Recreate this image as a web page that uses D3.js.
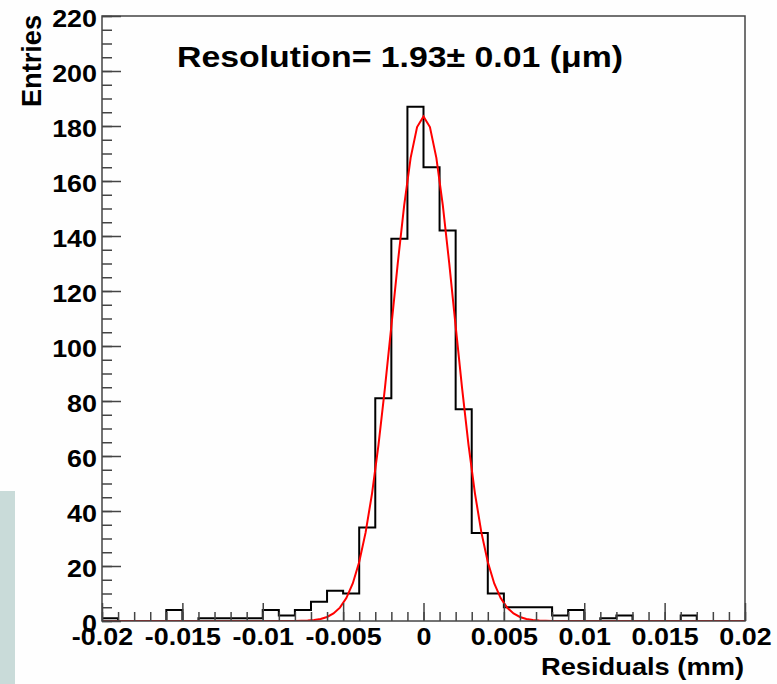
<!DOCTYPE html>
<html lang="en">
<head>
  <meta charset="UTF-8">
  <title>Residuals</title>
  <script src="https://d3js.org/d3.v7.min.js"></script>
  <style>
    body {
      margin: 0;
      background: #fefefe;
      font-family: "Liberation Sans", Arial, sans-serif;
    }
    svg text {
      font-weight: bold;
      fill: #000;
    }
    .frame {
      fill: none;
      stroke: #444;
      stroke-width: 1.5px;
    }
    .axis path { display: none; }
    .axis line { stroke: #444; stroke-width: 1.5px; }
    .hist {
      fill: none;
      stroke: #000;
      stroke-width: 2px;
    }
    .fit {
      fill: none;
      stroke: #ff0000;
      stroke-width: 2px;
    }
  </style>
</head>
<body>
  <div id="chart"></div>

  <script>
    // bin contents, 40 bins of 0.001 mm from -0.02 to 0.02
    const counts = [
      1, 0, 0, 0, 4, 0, 1, 1, 1, 1,
      4, 2, 4, 7, 11, 10, 34, 81, 139, 187,
      165, 142, 77, 32, 10, 5, 5, 5, 2, 4,
      0, 1, 2, 0, 0, 0, 2, 0, 0, 0
    ];
    const binLow = -0.02;
    const binWidth = 0.001;

    // gaussian fit
    const fitConst = 183.5;
    const fitMean = 0.0;
    const fitSigma = 0.00193;

    const xTicks = [-0.02, -0.015, -0.01, -0.005, 0, 0.005, 0.01, 0.015, 0.02];
    const xTickLabels = ["-0.02", "-0.015", "-0.01", "-0.005", "0", "0.005", "0.01", "0.015", "0.02"];
    const yTicks = [0, 20, 40, 60, 80, 100, 120, 140, 160, 180, 200, 220];

    const title = "Resolution= 1.93\u00b1 0.01 (\u03bcm)";
    const xTitle = "Residuals (mm)";
    const yTitle = "Entries";

    const W = 777, H = 684;
    const padL = 102, padR = 745, padT = 16, padB = 621;
    const stretch = 1.12; // glyphs in the picture are a little wide

    const svg = d3.select("#chart").append("svg")
      .attr("width", W)
      .attr("height", H);

    // teal strip at the lower left
    svg.append("rect")
      .attr("x", 0).attr("y", 491)
      .attr("width", 15).attr("height", H - 491)
      .attr("fill", "#c9dbd9");

    const x = d3.scaleLinear().domain([-0.02, 0.02]).range([padL, padR]);
    const y = d3.scaleLinear().domain([0, 220]).range([padB, padT]);

    svg.append("clipPath").attr("id", "plot")
      .append("rect")
      .attr("x", padL).attr("y", padT)
      .attr("width", padR - padL).attr("height", padB - padT);

    // histogram outline
    const edges = d3.range(counts.length + 1).map(i => binLow + i * binWidth);
    const pts = [[edges[0], 0]];
    counts.forEach((c, i) => {
      pts.push([edges[i], c]);
      pts.push([edges[i + 1], c]);
    });
    pts.push([edges[counts.length], 0]);

    svg.append("path")
      .attr("class", "hist")
      .attr("clip-path", "url(#plot)")
      .attr("d", d3.line().x(d => x(d[0])).y(d => y(d[1]))(pts));

    // fit curve, sampled like ROOT with 100 points
    const fitPts = d3.range(101).map(i => {
      const v = -0.02 + i * 0.0004;
      return [v, fitConst * Math.exp(-0.5 * Math.pow((v - fitMean) / fitSigma, 2))];
    });
    svg.append("path")
      .attr("class", "fit")
      .attr("clip-path", "url(#plot)")
      .attr("d", d3.line().x(d => x(d[0])).y(d => y(d[1]))(fitPts));

    // frame
    svg.append("rect")
      .attr("class", "frame")
      .attr("x", padL).attr("y", padT)
      .attr("width", padR - padL).attr("height", padB - padT);

    function widen(sel) {
      sel.each(function () {
        const t = d3.select(this);
        const tx = +t.attr("x") || 0;
        t.attr("x", 0).attr("transform", `translate(${tx},0) scale(${stretch},1)`);
      });
    }

    // y axis: minor then major
    svg.append("g")
      .attr("class", "axis")
      .attr("transform", `translate(${padL},0)`)
      .call(d3.axisLeft(y).tickValues(d3.range(0, 221, 5)).tickSize(-10).tickFormat(""));

    const yAxis = svg.append("g")
      .attr("class", "axis")
      .attr("transform", `translate(${padL},0)`)
      .call(d3.axisLeft(y).tickValues(yTicks).tickSize(-19).tickPadding(5));
    yAxis.selectAll("text")
      .attr("font-size", 24)
      .attr("font-family", "Liberation Sans")
      .attr("dy", "0.44em")
      .call(widen);

    // x axis
    svg.append("g")
      .attr("class", "axis")
      .attr("transform", `translate(0,${padB})`)
      .call(d3.axisBottom(x).tickValues(d3.range(41).map(i => -0.02 + i * 0.001)).tickSize(-9).tickFormat(""));

    const xAxis = svg.append("g")
      .attr("class", "axis")
      .attr("transform", `translate(0,${padB})`)
      .call(d3.axisBottom(x).tickValues(xTicks).tickSize(-18).tickPadding(7)
        .tickFormat((d, i) => xTickLabels[i]));
    xAxis.selectAll("text")
      .attr("font-size", 24)
      .attr("font-family", "Liberation Sans")
      .attr("dy", "0.71em")
      .call(widen);

    // titles
    svg.append("text")
      .attr("x", 177).attr("y", 67)
      .attr("font-size", 30)
      .attr("textLength", 446)
      .attr("lengthAdjust", "spacingAndGlyphs")
      .text(title);

    svg.append("text")
      .attr("x", 744).attr("y", 675)
      .attr("text-anchor", "end")
      .attr("font-size", 24)
      .attr("textLength", 203)
      .attr("lengthAdjust", "spacingAndGlyphs")
      .text(xTitle);

    svg.append("text")
      .attr("transform", `translate(41,15) scale(${stretch},1) rotate(-90)`)
      .attr("text-anchor", "end")
      .attr("font-size", 24)
      .attr("textLength", 92)
      .attr("lengthAdjust", "spacingAndGlyphs")
      .text(yTitle);
  </script>
</body>
</html>
